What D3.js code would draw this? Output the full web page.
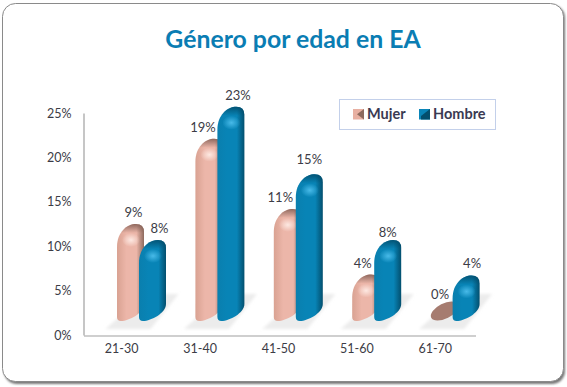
<!DOCTYPE html>
<html>
<head>
<meta charset="utf-8">
<script src="https://d3js.org/d3.v7.min.js"></script>
<style>
  html, body { margin: 0; padding: 0; background: #fff; }
  text { font-family: Lato, "Open Sans", sans-serif; }
</style>
</head>
<body>
<svg id="chart" width="567" height="387"></svg>
<script>
const title = "Género por edad en EA";
const categories = ["21-30", "31-40", "41-50", "51-60", "61-70"];
const seriesNames = ["Mujer", "Hombre"];
const mujer = [9.8, 19.4, 11.5, 4.1, 0];
const hombre = [8.0, 23.0, 15.4, 8.0, 4.0];
const yTicks = [0, 5, 10, 15, 20, 25];

// the labels in the picture do not sit exactly over their bars
const mujerLabelShift = [3, -6, -7, -3, -4];
const hombreLabelShift = [7, 7, 0, 0, 6];
const mujerLabelLift = [0, 0, 0, 0, 0];
const hombreLabelLift = [0, 0, 3, -4, 0];

const colors = {
  Mujer: { edge: "#d9a292", mid: "#ecb6a9", dark: "#8d6a5e", rim: "#7d5a50", flat: "#a67c70" },
  Hombre: { edge: "#0a7fae", mid: "#0884b6", dark: "#034f6e", rim: "#024a68", flat: "#0884b6" }
};

const svg = d3.select("#chart");
const defs = svg.append("defs");

// card
defs.append("filter").attr("id", "cardShadow").attr("x", "-5%").attr("y", "-5%").attr("width", "110%").attr("height", "110%")
  .append("feGaussianBlur").attr("stdDeviation", 1.2);
svg.append("rect").attr("x", 4).attr("y", 5).attr("width", 561).attr("height", 379).attr("rx", 13)
  .attr("fill", "#777").attr("filter", "url(#cardShadow)");
svg.append("rect").attr("x", 2.5).attr("y", 3.5).attr("width", 561).attr("height", 378).attr("rx", 13)
  .attr("fill", "#fff").attr("stroke", "#8a8a8a").attr("stroke-width", 1);

svg.append("text").attr("x", 293).attr("y", 48).attr("text-anchor", "middle")
  .attr("font-size", 24.8).attr("font-weight", 700).attr("fill", "#0a7db3").text(title);

const x = d3.scaleBand().domain(categories).range([83.5, 475.5]);
const inner = d3.scaleBand().domain(seriesNames).range([33.5, 77.5]);
const y = d3.scaleLinear().domain([0, 25]).range([335, 113]);
// bars stand further back than the axis, so their tops sit higher than the axis value
const yBar = d3.scaleLinear().domain([0, 25]).range([311, 89]);

const barWidth = 27;
const barFoot = 321;

// axes
const yAxis = svg.append("g").attr("transform", "translate(83.5,0)")
  .call(d3.axisLeft(y).tickValues(yTicks).tickSize(0).tickPadding(12).tickFormat(d => d + "%"));
const xAxis = svg.append("g").attr("transform", "translate(0,335.5)")
  .call(d3.axisBottom(x).tickSize(0).tickPadding(9));
svg.selectAll(".domain").attr("stroke", "#a0a0a0").attr("stroke-width", 1.2);
svg.selectAll(".tick text").attr("font-size", 12.5).attr("fill", "#3c3c46")
  .style("font-family", "Lato, sans-serif");
xAxis.selectAll(".tick text").attr("dx", -1);

// floor shadows
defs.append("filter").attr("id", "floorBlur").append("feGaussianBlur").attr("stdDeviation", 1.8);
svg.append("g").selectAll("path").data(categories).join("path")
  .attr("d", d => {
    const l = x(d) + 22;
    return d3.line()([[l, 329], [l + 45, 329], [l + 73, 294], [l + 40, 294]]) + "Z";
  })
  .attr("fill", "#ececec").attr("filter", "url(#floorBlur)");

// horizontal shading of the cylinders
seriesNames.forEach(s => {
  const g = defs.append("linearGradient").attr("id", "body" + s);
  [[0, colors[s].edge], [0.35, colors[s].mid], [0.72, colors[s].mid], [1, colors[s].dark]].forEach(p => {
    g.append("stop").attr("offset", p[0]).attr("stop-color", p[1]);
  });
  const h = defs.append("radialGradient").attr("id", "shine" + s);
  h.append("stop").attr("offset", 0).attr("stop-color", s === "Mujer" ? "#ffeee8" : "#4fc0ee").attr("stop-opacity", 0.9);
  h.append("stop").attr("offset", 1).attr("stop-color", s === "Mujer" ? "#ffeee8" : "#4fc0ee").attr("stop-opacity", 0);
});

function barPath(x0, top) {
  const w = barWidth, b = barFoot;
  return `M${x0},${b - 4}L${x0},${top + 23}C${x0},${top + 8} ${x0 + 10},${top} ${x0 + 19},${top}` +
    `Q${x0 + w},${top} ${x0 + w},${top + 8}L${x0 + w},${b - 17}C${x0 + w},${b - 8} ${x0 + 12},${b} ${x0 + 4},${b}Q${x0},${b} ${x0},${b - 4}Z`;
}

const rows = [["Mujer", mujer, mujerLabelShift, mujerLabelLift], ["Hombre", hombre, hombreLabelShift, hombreLabelLift]];
const marks = svg.append("g");
const labels = svg.append("g");

rows.forEach(([name, values, shift, lift]) => {
  values.forEach((v, i) => {
    const x0 = x(categories[i]) + inner(name);
    const top = yBar(v);
    if (v === 0) {
      marks.append("ellipse")
        .attr("cx", x0 + 14).attr("cy", top)
        .attr("rx", 15).attr("ry", 7.5)
        .attr("transform", `rotate(-27,${x0 + 14},${top})`)
        .attr("fill", colors[name].flat);
    } else {
      const id = `rim${name}${i}`;
      const rim = defs.append("linearGradient").attr("id", id).attr("gradientUnits", "userSpaceOnUse")
        .attr("x1", 0).attr("x2", 0).attr("y1", top).attr("y2", top + 9);
      rim.append("stop").attr("offset", 0).attr("stop-color", colors[name].rim).attr("stop-opacity", 0.85);
      rim.append("stop").attr("offset", 1).attr("stop-color", colors[name].rim).attr("stop-opacity", 0);
      marks.append("path").attr("d", barPath(x0, top)).attr("fill", `url(#body${name})`);
      marks.append("path").attr("d", barPath(x0, top)).attr("fill", `url(#${id})`);
      marks.append("ellipse")
        .attr("cx", x0 + 14).attr("cy", top + 16)
        .attr("rx", 9).attr("ry", 7)
        .attr("fill", `url(#shine${name})`);
    }
    labels.append("text")
      .attr("x", x0 + barWidth / 2 + shift[i])
      .attr("y", (v === 0 ? top - 12 : top - 7) - lift[i])
      .attr("text-anchor", "middle")
      .attr("font-size", 13).attr("fill", "#3c3c46")
      .text(Math.floor(v) + "%");
  });
});

// legend
const legend = svg.append("g");
legend.append("rect").attr("x", 339.5).attr("y", 99.5).attr("width", 156).attr("height", 30)
  .attr("fill", "#fff").attr("stroke", "#c3d0ea").attr("stroke-width", 1);
const legendX = d3.scaleOrdinal().domain(seriesNames).range([353, 419]);
seriesNames.forEach(s => {
  const lx = legendX(s);
  legend.append("rect").attr("x", lx).attr("y", 109).attr("width", 11).attr("height", 10.5)
    .attr("fill", s === "Mujer" ? "#e8b0a2" : "#0a85b8");
  // dark bevel on the right of the key
  legend.append("path")
    .attr("d", s === "Mujer"
      ? `M${lx + 11},${109}L${lx + 4},${114.2}L${lx + 11},${119.5}Z`
      : `M${lx + 11},${109}L${lx + 2},${116}L${lx + 2},${119.5}L${lx + 11},${119.5}Z`)
    .attr("fill", colors[s].dark);
  legend.append("text").attr("x", lx + 14).attr("y", 119)
    .attr("font-size", 14.5).attr("font-weight", 700).attr("fill", "#3a3a52").text(s);
});
</script>
</body>
</html>
